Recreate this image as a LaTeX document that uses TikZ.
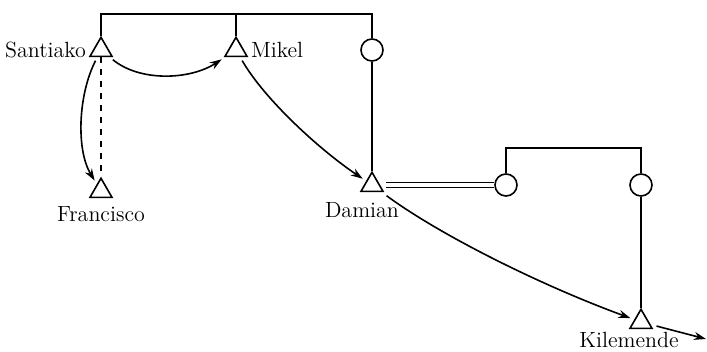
\documentclass[tikz,border=0pt]{standalone}
\usetikzlibrary{shapes.geometric,positioning,arrows.meta}

\begin{document}
\begin{tikzpicture}[x=0.5pt,y=-0.5pt,>={Stealth[length=6pt,width=4pt]},line width=0.8pt]
    \tikzstyle{male}=[regular polygon,regular polygon sides=3,draw=black,minimum size=12.7pt,inner sep=0pt]
    \tikzstyle{female}=[circle,draw=black,minimum size=11pt,inner sep=0pt]
    \tikzstyle{kinname}=[font=\fontsize{11}{13}\selectfont,inner sep=1pt]
    \useasboundingbox (0,0) rectangle (707,352);

    \foreach \id/\x/\y in {S/101/50, M/236/50, F/101/191, D/372/185, K/641/322}
            \node[male] (\id) at (\x,\y) {};
    \foreach \id/\x/\y in {C1/372/50, C2/506/185, C3/641/185}
            \node[female] (\id) at (\x,\y) {};

    \node[kinname,left=2pt of S] (Slab) {Santiako};
    \node[kinname,right=2pt of M] (Mlab) {Mikel};
    \node[kinname,below=3pt of F] (Flab) {Francisco};
    \node[kinname,below=4pt of D,xshift=-5pt] (Dlab) {Damian};
    \node[kinname,below=0pt of K,xshift=-6pt] (Klab) {Kilemende};

        % sibling bars
        \coordinate (topbar) at (236,14);
        \coordinate (lowbar) at (573,148);
        \draw (S.corner 1) |- (topbar) -| (C1.north);
        \draw (M.corner 1) -- (topbar);
        \draw (C1.south) -- (D.corner 1);
        \draw (C2.north) |- (lowbar) -| (C3.north);
        \draw (C3.south) -- (K.corner 1);
        \draw[dashed] (S.south) -- (F.corner 1);
        \draw[double,double distance=2pt,line width=0.6pt,shorten <=3pt] (D.east) -- (C2.west);

        % succession
        \draw[->,shorten <=2pt,shorten >=2pt] (S) .. controls (78,95) and (76,150) .. (F);
        \draw[->,shorten <=2pt,shorten >=2pt] (S) .. controls (140,82) and (190,80) .. (M);
        \draw[->,shorten <=2pt,shorten >=2pt] (M) .. controls (265,100) and (320,150) .. (D);
        \draw[->,shorten <=3pt,shorten >=2pt] (D) .. controls (440,235) and (540,285) .. (K);
        \coordinate (Kout) at (706,339);
        \draw[->,shorten <=3pt] (K) -- (Kout);
\end{tikzpicture}
\end{document}
